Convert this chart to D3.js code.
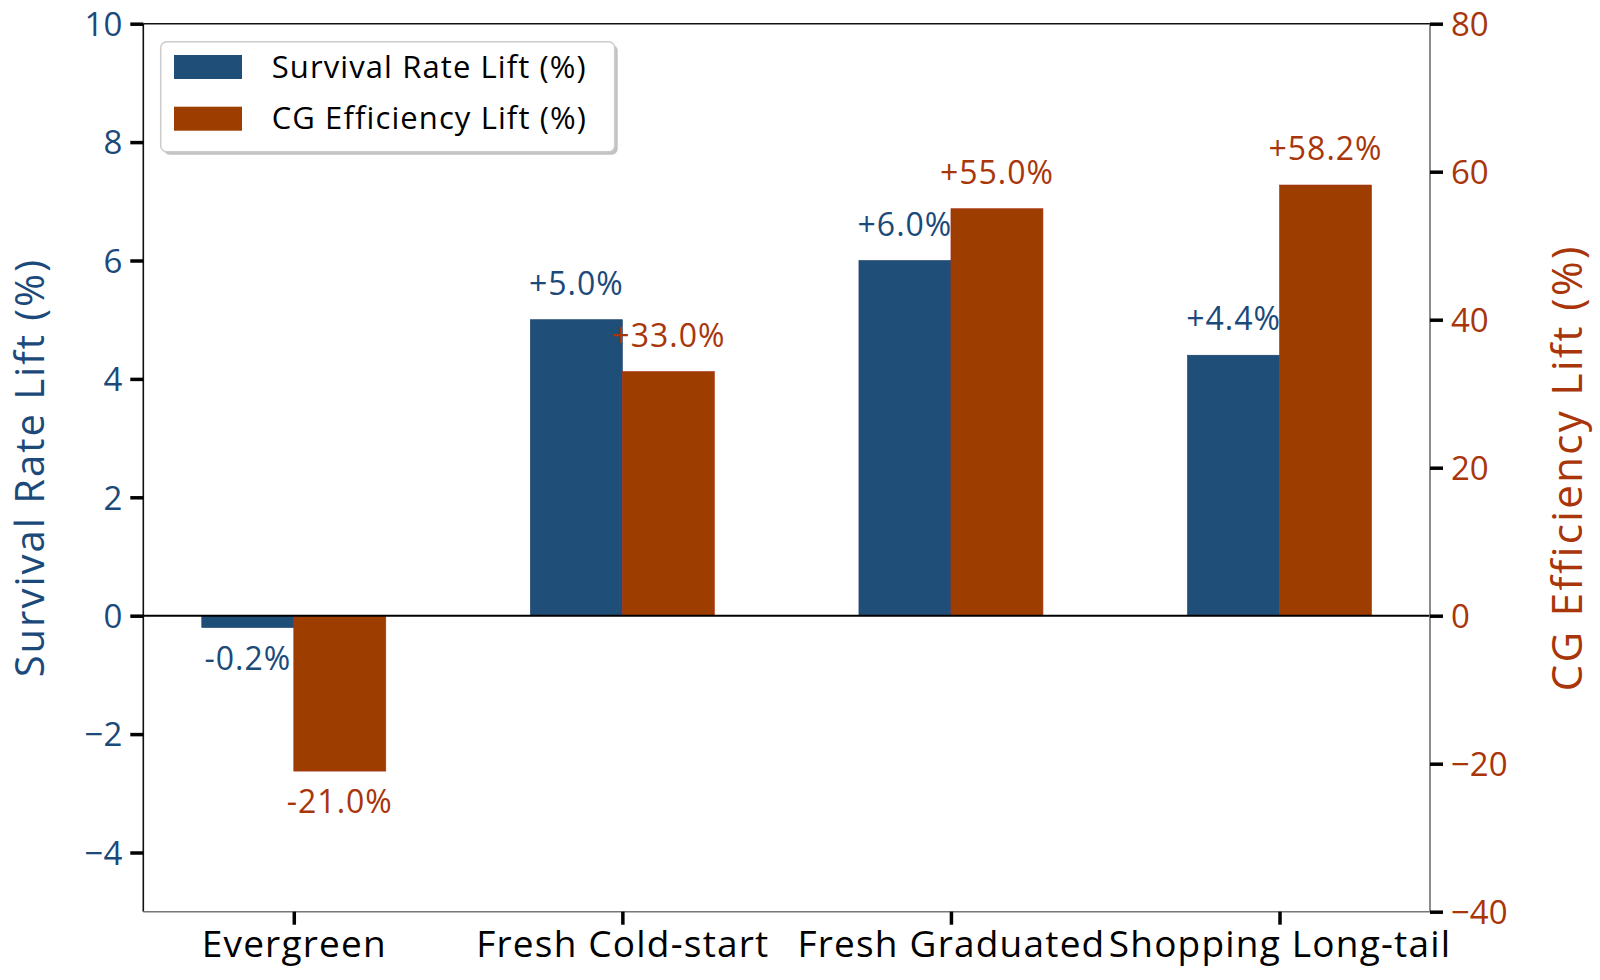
<!DOCTYPE html>
<html>
<head>
<meta charset="utf-8">
<script src="https://cdn.jsdelivr.net/npm/d3@7"></script>
<style>
  html, body { margin: 0; padding: 0; background: #fff; }
  svg text { font-family: "Open Sans", "Noto Sans", sans-serif; }
</style>
</head>
<body>
<div id="chart"></div>
<script>
(function () {

  // data ---------------------------------------------------------
  const CATEGORIES = ["Evergreen", "Fresh Cold-start", "Fresh Graduated", "Shopping Long-tail"];
  const SURVIVAL = [-0.2, 5.0, 6.0, 4.4];     // left axis
  const CG_EFF = [-21.0, 33.0, 55.0, 58.2];   // right axis
  const LEFT_TICKS = [-4, -2, 0, 2, 4, 6, 8, 10];
  const RIGHT_TICKS = [-40, -20, 0, 20, 40, 60, 80];
  const SERIES_NAMES = ["Survival Rate Lift (%)", "CG Efficiency Lift (%)"];

  const BLUE = "#1F4E79", ORANGE = "#9E3D00";
  const BLUE_TXT = "#1B4A7A", ORANGE_TXT = "#A8360A";

  const W = 1600, H = 980;
  const plot = { left: 143.3, right: 1430, top: 23.7, bottom: 911.7 };
  const BW = 0.28;

  const svg = d3.select("#chart").append("svg")
    .attr("width", W)
    .attr("height", H);

  const x = d3.scaleLinear()
    .domain([-BW - 0.178, CATEGORIES.length - 1 + BW + 0.178])
    .range([plot.left, plot.right]);
  const yL = d3.scaleLinear().domain([-5, 10]).range([plot.bottom, plot.top]);
  const yR = d3.scaleLinear().domain([-40, 80]).range([plot.bottom, plot.top]);

  // bars -----------------------------------------------------------
  svg.append("g").selectAll("rect")
    .data(SURVIVAL)
    .enter().append("rect")
    .attr("x", (d, i) => x(i - BW))
    .attr("width", (d, i) => x(i) - x(i - BW))
    .attr("y", d => yL(Math.max(d, 0)))
    .attr("height", d => Math.abs(yL(d) - yL(0)))
    .attr("fill", BLUE)
    .attr("stroke", "#1a3f66")
    .attr("stroke-width", 0.6);

  svg.append("g").selectAll("rect")
    .data(CG_EFF)
    .enter().append("rect")
    .attr("x", (d, i) => x(i))
    .attr("width", (d, i) => x(i + BW) - x(i))
    .attr("y", d => yR(Math.max(d, 0)))
    .attr("height", d => Math.abs(yR(d) - yR(0)))
    .attr("fill", ORANGE)
    .attr("stroke", "#a8301a")
    .attr("stroke-width", 0.6);

  // zero line
  svg.append("line")
    .attr("x1", plot.left).attr("x2", plot.right)
    .attr("y1", yL(0)).attr("y2", yL(0))
    .attr("stroke", "#000").attr("stroke-width", 2);

  // value labels
  const fmt = v => (v > 0 ? "+" : "") + v.toFixed(1) + "%";
  svg.append("g").selectAll("text")
    .data(SURVIVAL)
    .enter().append("text")
    .attr("x", (d, i) => x(i - BW / 2))
    .attr("y", d => d >= 0 ? yL(d) - 25 : yL(d) + 42)
    .attr("text-anchor", "middle")
    .attr("fill", BLUE_TXT)
    .style("font-size", "32px")
    .style("letter-spacing", "1px")
    .text(fmt);

  svg.append("g").selectAll("text")
    .data(CG_EFF)
    .enter().append("text")
    .attr("x", (d, i) => x(i + BW / 2))
    .attr("y", d => d >= 0 ? yR(d) - 25 : yR(d) + 42)
    .attr("text-anchor", "middle")
    .attr("fill", ORANGE_TXT)
    .style("font-size", "32px")
    .style("letter-spacing", "1px")
    .text(fmt);

  // spines ---------------------------------------------------------
  const spine = (x1, y1, x2, y2, c) => svg.append("line")
    .attr("x1", x1).attr("y1", y1).attr("x2", x2).attr("y2", y2)
    .attr("stroke", c).attr("stroke-width", 1.6);
  spine(plot.left, plot.top, plot.right, plot.top, "#111");
  spine(plot.left, plot.top, plot.left, plot.bottom, "#111");
  spine(plot.right, plot.top, plot.right, plot.bottom, "#6f6f6f");
  spine(plot.left, plot.bottom, plot.right, plot.bottom, "#777");

  // axes -----------------------------------------------------------
  const minus = d => d < 0 ? "\u2212" + Math.abs(d) : d;

  const leftAxis = svg.append("g")
    .attr("transform", `translate(${plot.left},0)`)
    .call(d3.axisLeft(yL).tickValues(LEFT_TICKS).tickSize(13).tickPadding(8).tickFormat(minus));
  leftAxis.select(".domain").remove();
  leftAxis.selectAll(".tick line").attr("stroke", "#000").attr("stroke-width", 3.5);
  leftAxis.selectAll(".tick text").attr("fill", BLUE_TXT).style("font-size", "33px")
    .attr("dy", "0.36em");

  const rightAxis = svg.append("g")
    .attr("transform", `translate(${plot.right},0)`)
    .call(d3.axisRight(yR).tickValues(RIGHT_TICKS).tickSize(13).tickPadding(8).tickFormat(minus));
  rightAxis.select(".domain").remove();
  rightAxis.selectAll(".tick line").attr("stroke", "#000").attr("stroke-width", 3.5);
  rightAxis.selectAll(".tick text").attr("fill", ORANGE_TXT).style("font-size", "33px")
    .attr("dy", "0.36em");

  const bottomAxis = svg.append("g")
    .attr("transform", `translate(0,${plot.bottom})`)
    .call(d3.axisBottom(x).tickValues(d3.range(CATEGORIES.length)).tickSize(13).tickPadding(6)
      .tickFormat(i => CATEGORIES[i]));
  bottomAxis.select(".domain").remove();
  bottomAxis.selectAll(".tick line").attr("stroke", "#000").attr("stroke-width", 3.5);
  bottomAxis.selectAll(".tick text").attr("fill", "#000")
    .style("font-size", "37px").style("letter-spacing", "1.2px");

  // axis titles
  svg.append("text")
    .attr("transform", `translate(44,${(plot.top + plot.bottom) / 2}) rotate(-90)`)
    .attr("text-anchor", "middle")
    .attr("fill", BLUE_TXT)
    .style("font-size", "40px")
    .style("letter-spacing", "2px")
    .text(SERIES_NAMES[0]);

  svg.append("text")
    .attr("transform", `translate(1582,${(plot.top + plot.bottom) / 2}) rotate(-90)`)
    .attr("text-anchor", "middle")
    .attr("fill", ORANGE_TXT)
    .style("font-size", "42px")
    .style("letter-spacing", "2.4px")
    .text(SERIES_NAMES[1]);

  // legend ---------------------------------------------------------
  const lg = svg.append("g").attr("transform", "translate(160.7,41.7)");
  lg.append("rect")
    .attr("x", 3).attr("y", 3)
    .attr("width", 454).attr("height", 110)
    .attr("rx", 6)
    .attr("fill", "#999").attr("opacity", 0.6);
  lg.append("rect")
    .attr("width", 454).attr("height", 110)
    .attr("rx", 6)
    .attr("fill", "#fff").attr("stroke", "#ccc").attr("stroke-width", 1.5);

  [BLUE, ORANGE].forEach((c, i) => {
    const row = lg.append("g").attr("transform", `translate(0,${i * 51.7})`);
    row.append("rect")
      .attr("x", 13.3).attr("y", 13.3)
      .attr("width", 68).attr("height", 24)
      .attr("fill", c);
    row.append("text")
      .attr("x", 111).attr("y", 36)
      .attr("fill", "#000")
      .style("font-size", "31px")
      .style("letter-spacing", "1.1px")
      .text(SERIES_NAMES[i]);
  });

})();
</script>
</body>
</html>
